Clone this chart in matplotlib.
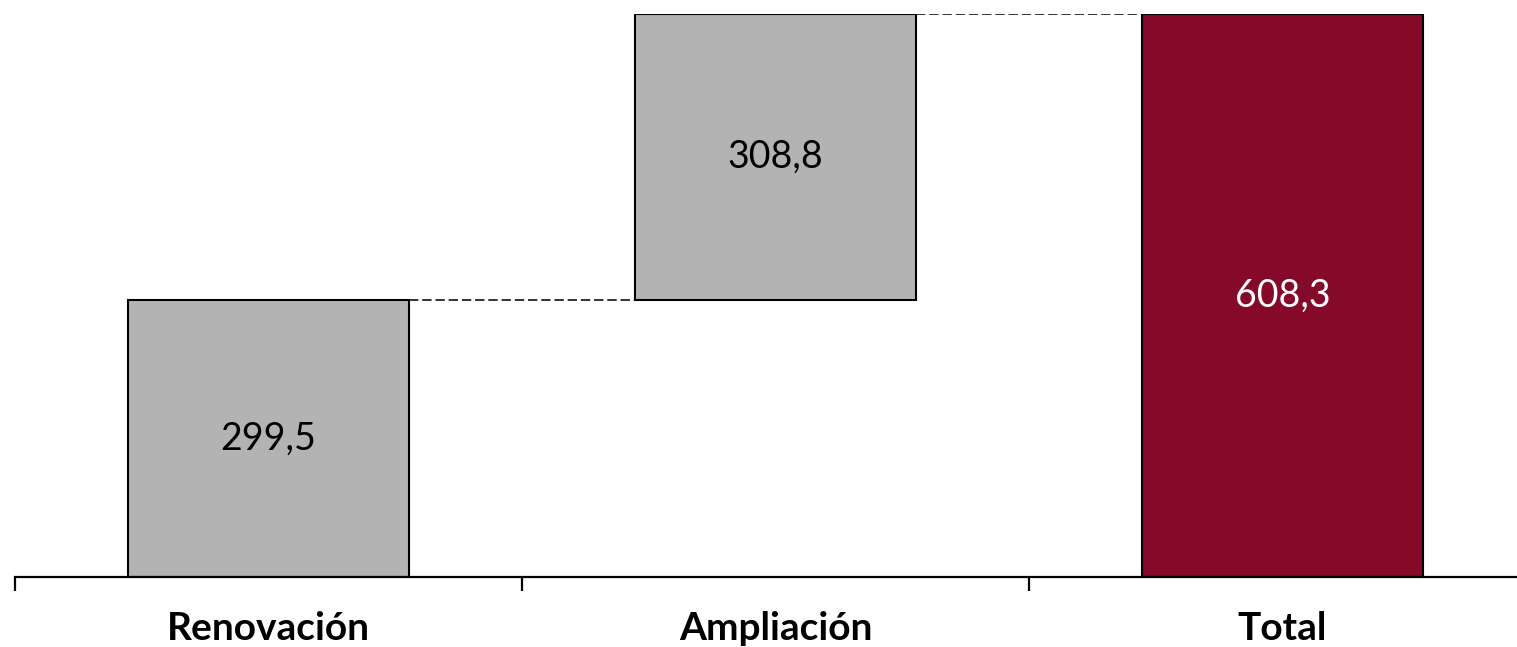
import matplotlib
matplotlib.use("Agg")
import matplotlib.pyplot as plt

# Investment breakdown (waterfall)
categories = ["Renovación", "Ampliación", "Total"]
steps = [299.5, 308.8]
total = 608.3
value_labels = ["299,5", "308,8", "608,3"]

gray = "#B3B3B3"
wine = "#850A2A"

plt.rcParams["font.family"] = ["Lato", "DejaVu Sans"]

W, H = 1517, 647
fig = plt.figure(figsize=(W / 100, H / 100), dpi=100)
ax = fig.add_axes([15 / W, (H - 577) / H, (W - 15) / W, (577 - 14) / H])

x = list(range(len(categories)))
bar_w = 0.556

# step bars
bottoms = [0, steps[0]]
ax.bar(x[:2], steps, bottom=bottoms, width=bar_w, color=gray,
       edgecolor="black", linewidth=1.5, zorder=2)
ax.bar(x[2], total, width=bar_w, color=wine, edgecolor="black",
       linewidth=1.5, zorder=2)

# dashed connectors
levels = [steps[0], steps[0] + steps[1]]
for i, lvl in enumerate(levels):
    ax.plot([x[i] + bar_w / 2, x[i + 1] - bar_w / 2], [lvl, lvl],
            linestyle=(0, (4.8, 2.0)), color="#333333", linewidth=1.4, zorder=1)

# value labels
centers = [steps[0] / 2, steps[0] + steps[1] / 2, total / 2]
colors = ["black", "black", "white"]
for xi, yc, lab, c in zip(x, centers, value_labels, colors):
    ax.text(xi, yc, lab, ha="center", va="center", fontsize=27, color=c)

for s in ["top", "right", "left"]:
    ax.spines[s].set_visible(False)
ax.spines["bottom"].set_linewidth(1.6)
ax.set_yticks([])

ax.set_xticks([-0.5, 0.5, 1.5, 2.5])
ax.set_xticklabels([])
ax.tick_params(axis="x", direction="out", length=10, width=1.6)
ax.set_ylim(0, total)
ax.set_xlim(-0.5, -0.5 + (W - 15) / 507)

for xi, cat in zip(x, categories):
    ax.text(xi, -63 / 563, cat, transform=ax.get_xaxis_transform(), ha="center",
            va="baseline", fontsize=28, fontweight="bold")

fig.savefig("out.png", dpi=100)
